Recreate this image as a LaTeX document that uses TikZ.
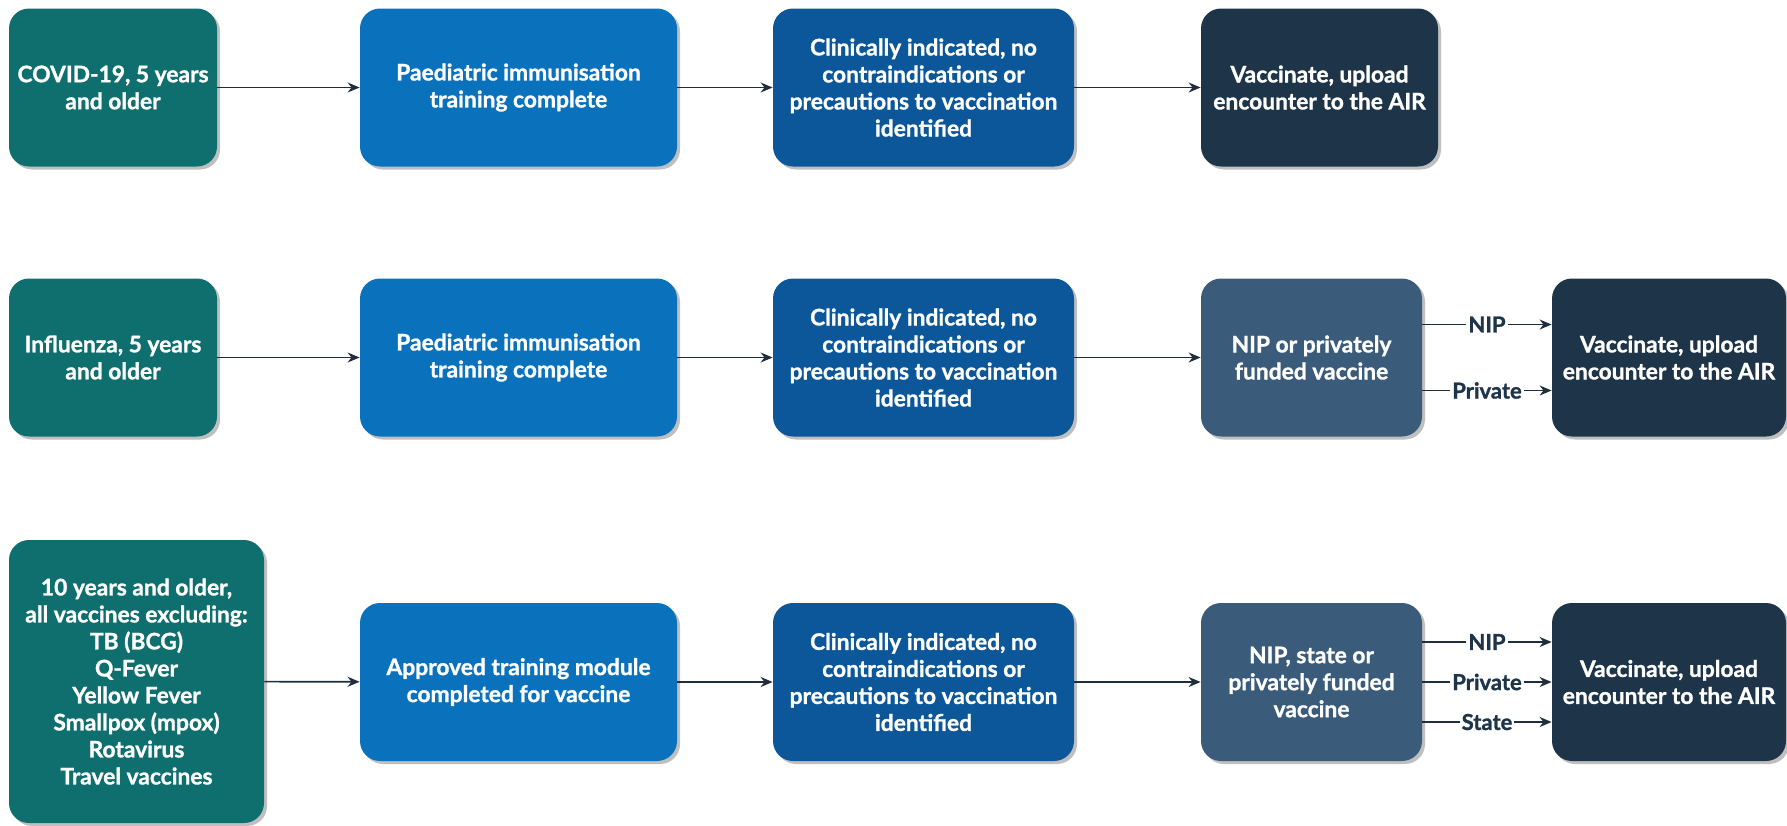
\documentclass[tikz,border=0pt]{standalone}
\usepackage{fontspec}
\setmainfont{Lato}[BoldFeatures={FakeBold=1.2}]
\usetikzlibrary{arrows.meta, shadows}

\definecolor{ageteal}{HTML}{0E6F6E}
\definecolor{trainblue}{HTML}{0A72BD}
\definecolor{checkblue}{HTML}{0B5799}
\definecolor{fundslate}{HTML}{3A5C7A}
\definecolor{airnavy}{HTML}{1E3549}
\definecolor{linkgrey}{HTML}{1F2D3D}

\begin{document}
\begin{tikzpicture}[x=0.5pt, y=-0.5pt]
    \tikzset{
        flow box/.style={
                rectangle, rounded corners=10pt, minimum height=79pt, inner sep=2pt,
                align=center, text=white, font=\fontsize{11.4}{13.5}\selectfont\bfseries,
                drop shadow={shadow xshift=1.5pt, shadow yshift=-1.5pt, fill=black, opacity=0.25}
            },
        age box/.style={flow box, fill=ageteal, minimum width=104pt},
        training box/.style={flow box, fill=trainblue, minimum width=158.5pt},
        check box/.style={flow box, fill=checkblue, minimum width=150.5pt},
        funding box/.style={flow box, fill=fundslate, minimum width=110.5pt},
        air box/.style={flow box, fill=airnavy, minimum width=117pt},
        link/.style={draw=linkgrey, line width=0.8pt, -{Stealth[length=6pt, width=5pt]}},
        route label/.style={
                fill=white, inner sep=1pt, text=airnavy,
                font=\fontsize{11}{12}\selectfont\bfseries
            }
    }
    \useasboundingbox (0,0) rectangle (1787,825);

    % --- COVID-19 ---
    \node[age box] (cov) at (113, 87.5) {COVID-19, 5 years\\and older};
    \node[training box] (covtrain) at (518.5, 87.5) {Paediatric immunisation\\training complete};
    \node[check box] (covcheck) at (923.5, 87.5) {Clinically indicated, no\\contraindications or\\precautions to vaccination\\identified};
    \node[air box, minimum width=118.5pt] (covair) at (1319.5, 87.5) {Vaccinate, upload\\encounter to the AIR};

    % --- Influenza ---
    \node[age box] (flu) at (113, 357.5) {Influenza, 5 years\\and older};
    \node[training box] (flutrain) at (518.5, 357.5) {Paediatric immunisation\\training complete};
    \node[check box] (flucheck) at (923.5, 357.5) {Clinically indicated, no\\contraindications or\\precautions to vaccination\\identified};
    \node[funding box] (flufund) at (1311.5, 357.5) {NIP or privately\\funded vaccine};
    \node[air box] (fluair) at (1669, 357.5) {Vaccinate, upload\\encounter to the AIR};

    % --- 10 years and older ---
    \node[age box, minimum width=127.5pt, minimum height=141.5pt] (gen) at (136.5, 681.5)
        {10 years and older,\\all vaccines excluding:\\TB (BCG)\\Q-Fever\\Yellow Fever\\Smallpox (mpox)\\Rotavirus\\Travel vaccines};
    \node[training box] (gentrain) at (518.5, 682) {Approved training module\\completed for vaccine};
    \node[check box] (gencheck) at (923.5, 682) {Clinically indicated, no\\contraindications or\\precautions to vaccination\\identified};
    \node[funding box] (genfund) at (1311.5, 682) {NIP, state or\\privately funded\\vaccine};
    \node[air box] (genair) at (1669, 682) {Vaccinate, upload\\encounter to the AIR};

    \foreach \a/\b in {cov/covtrain, covtrain/covcheck, covcheck/covair,
                       flu/flutrain, flutrain/flucheck, flucheck/flufund,
                       gen/gentrain, gentrain/gencheck, gencheck/genfund}
        \draw[link] (\a) -- (\b);

    % funding routes
    \draw[link] ([yshift=16.5pt]flufund.east) -- node[route label] {NIP} ([yshift=16.5pt]fluair.west);
    \draw[link] ([yshift=-16.5pt]flufund.east) -- node[route label] {Private} ([yshift=-16.5pt]fluair.west);

    \draw[link] ([yshift=20pt]genfund.east) -- node[route label] {NIP} ([yshift=20pt]genair.west);
    \draw[link] (genfund) -- node[route label] {Private} (genair);
    \draw[link] ([yshift=-20pt]genfund.east) -- node[route label] {State} ([yshift=-20pt]genair.west);
\end{tikzpicture}
\end{document}
